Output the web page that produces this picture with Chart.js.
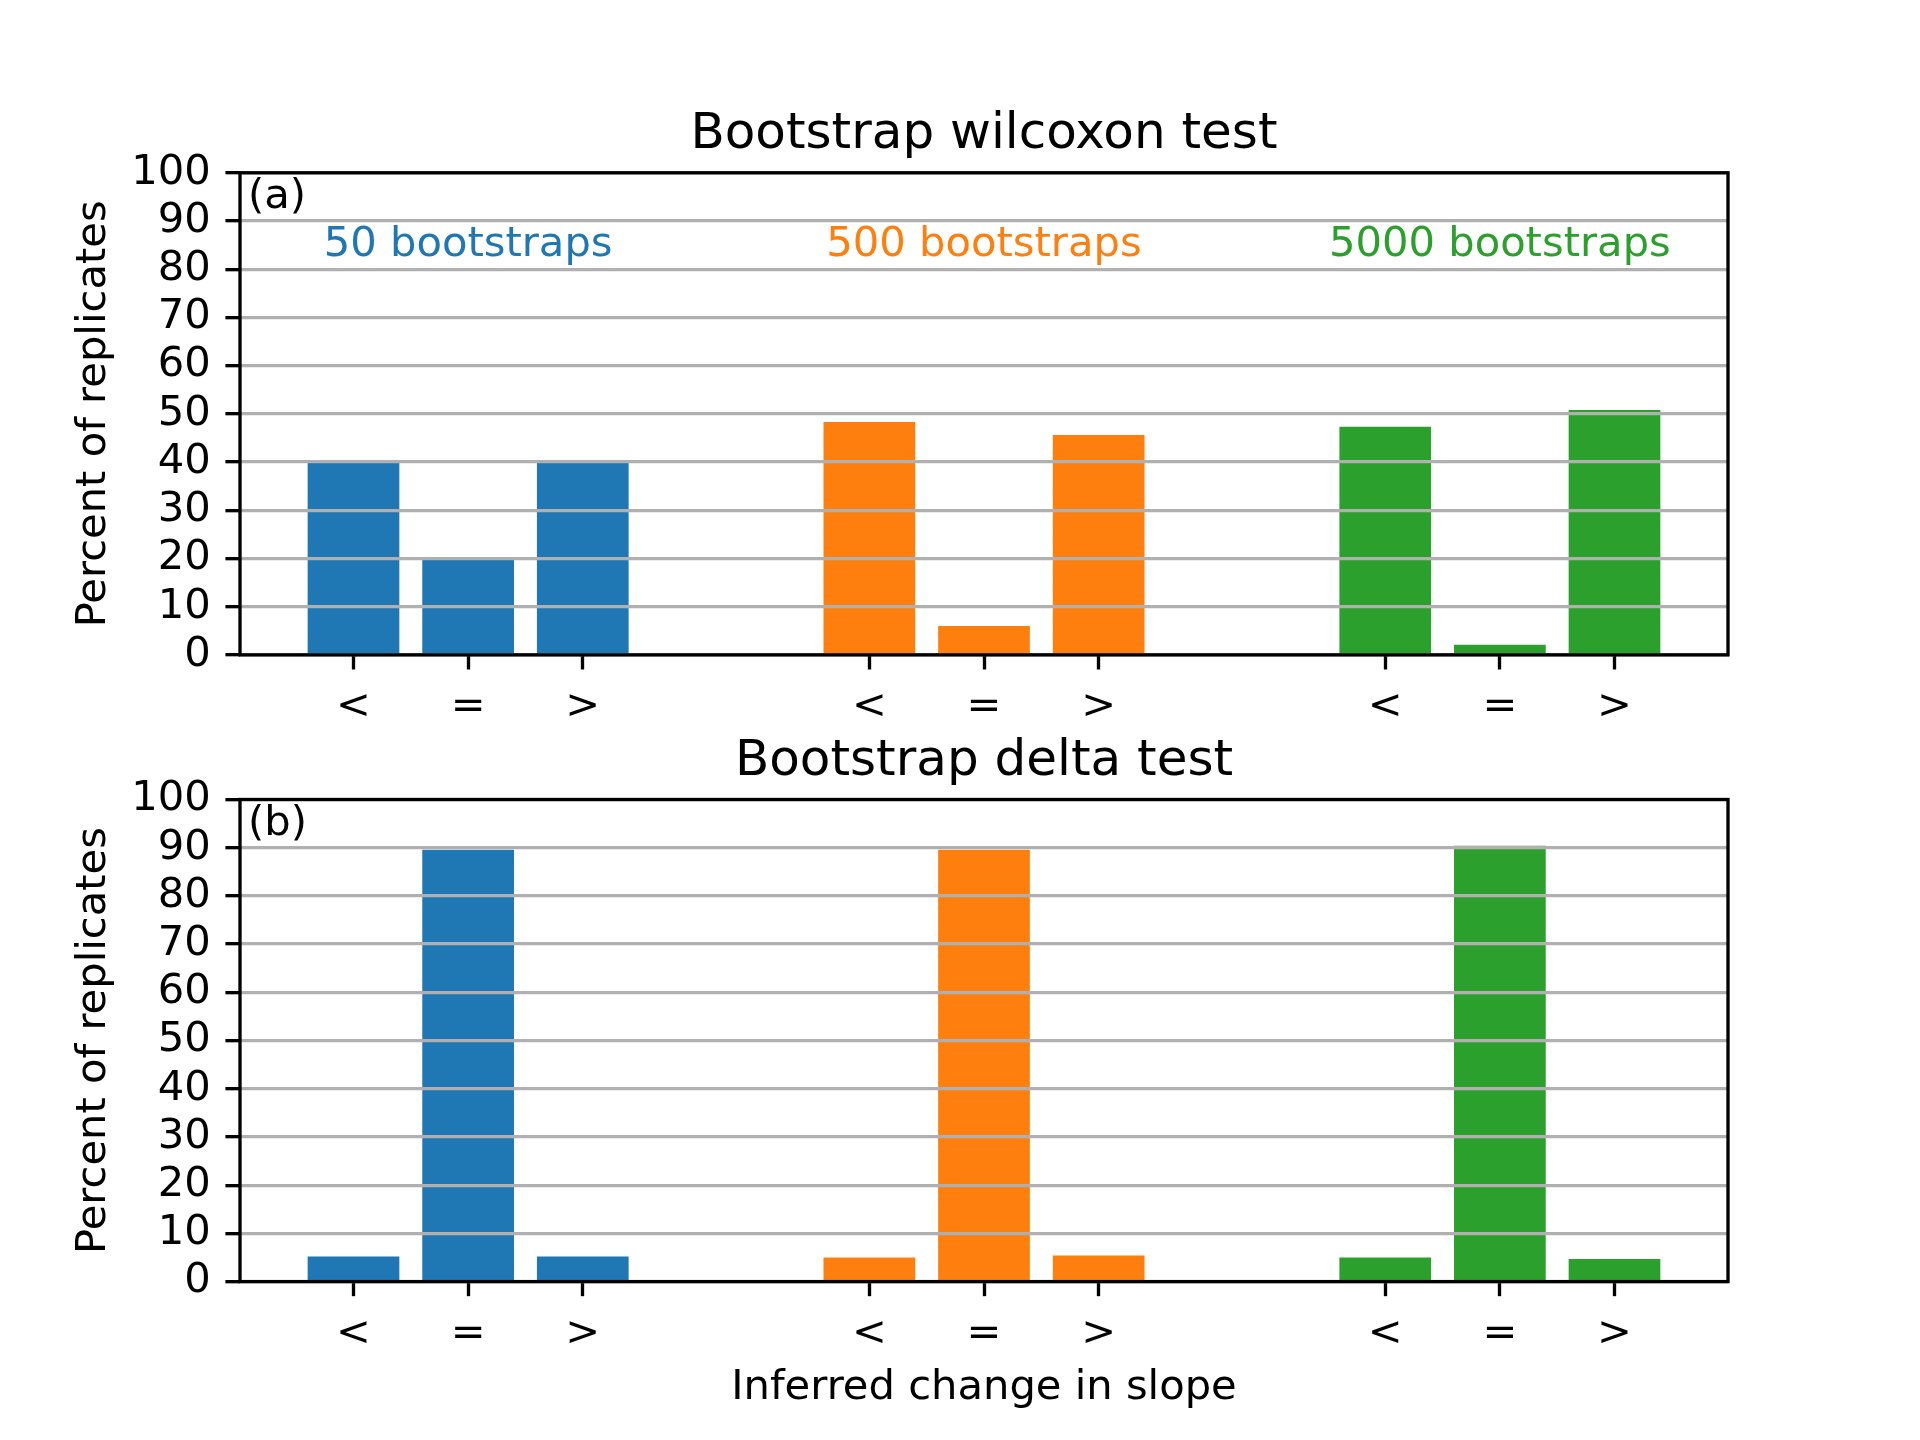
<!DOCTYPE html>
<html>
<head>
<meta charset="utf-8">
<script src="https://cdn.jsdelivr.net/npm/chart.js@4/dist/chart.umd.min.js"></script>
<style>
html, body { margin: 0; padding: 0; background: #ffffff; }
#wrap { position: relative; width: 1920px; height: 1440px; overflow: hidden; background: #ffffff; }
canvas { position: absolute; left: 0; }
</style>
</head>
<body>
<div id="wrap">
  <canvas id="top" width="1920" height="760" style="top:0px;width:1920px;height:760px"></canvas>
  <canvas id="bottom" width="1920" height="760" style="top:680px;width:1920px;height:760px"></canvas>
</div>
<script>
// ---------------- data ----------------
const categories = ['<', '=', '>'];
const groupNames = ['50 bootstraps', '500 bootstraps', '5000 bootstraps'];
const groupColors = ['#1f77b4', '#ff7f0e', '#2ca02c'];
const groupPositions = [[0, 1, 2], [4.5, 5.5, 6.5], [9, 10, 11]];
const groupCenters = [1, 5.5, 10];
const tickPositions = [0, 1, 2, 4.5, 5.5, 6.5, 9, 10, 11];
const tickLabels = ['<', '=', '>', '<', '=', '>', '<', '=', '>'];

const wilcoxon50   = [40.0, 20.0, 40.0];
const wilcoxon500  = [48.3, 6.0, 45.6];
const wilcoxon5000 = [47.3, 2.1, 50.8];

const delta50   = [5.2, 89.6, 5.2];
const delta500  = [5.0, 89.6, 5.4];
const delta5000 = [5.0, 90.4, 4.7];

const yMin = 0, yMax = 100, yStep = 10;
const titles = ['Bootstrap wilcoxon test', 'Bootstrap delta test'];
const panelLetters = ['(a)', '(b)'];
const yAxisLabel = 'Percent of replicates';
const xAxisLabel = 'Inferred change in slope';

// ---------------- style ----------------
const FONT = "'DejaVu Sans', 'Liberation Sans', sans-serif";
const PT = 300 / 72;
const FS = 10 * PT;     // tick / label font
const TFS = 12 * PT;    // title font
const LW = 0.8 * PT;    // spine, tick, grid width
const TL = 3.5 * PT;    // tick length

const panelPlugin = {
  id: 'panelText',
  afterDraw(chart, args, o) {
    const ctx = chart.ctx;
    const a = chart.chartArea;
    const xs = chart.scales.x, ys = chart.scales.y;
    ctx.save();
    // spines (box)
    ctx.strokeStyle = '#000000';
    ctx.lineWidth = LW;
    ctx.lineJoin = 'miter';
    ctx.strokeRect(a.left, a.top, a.right - a.left, a.bottom - a.top);
    ctx.textBaseline = 'alphabetic';
    ctx.fillStyle = '#000000';
    // title
    ctx.font = TFS + 'px ' + FONT;
    ctx.textAlign = 'center';
    ctx.fillText(o.title, (a.left + a.right) / 2, a.top - 6 * PT);
    // panel letter
    ctx.font = FS + 'px ' + FONT;
    ctx.textAlign = 'left';
    ctx.fillText(o.letter, a.left + 8, a.top + 35.3);
    // group names
    if (o.showGroups) {
      groupNames.forEach((n, i) => {
        ctx.fillStyle = groupColors[i];
        ctx.textAlign = 'center';
        ctx.fillText(n, xs.getPixelForValue(groupCenters[i]), ys.getPixelForValue(85) + 0.262 * FS);
      });
    }
    // y label
    ctx.fillStyle = '#000000';
    ctx.save();
    ctx.translate(a.left - 135, (a.top + a.bottom) / 2);
    ctx.rotate(-Math.PI / 2);
    ctx.textAlign = 'center';
    ctx.fillText(yAxisLabel, 0, 0);
    ctx.restore();
    // x label
    if (o.showXLabel) {
      ctx.textAlign = 'center';
      ctx.fillText(xAxisLabel, (a.left + a.right) / 2, a.bottom + 117);
    }
    ctx.restore();
  }
};

function buildDatasets(seriesValues) {
  return seriesValues.map((vals, g) => ({
    label: groupNames[g],
    data: vals.map((v, i) => ({ x: groupPositions[g][i], y: v })),
    backgroundColor: groupColors[g],
    borderWidth: 0,
    grouped: false,
    categoryPercentage: 1.0,
    barPercentage: 0.8
  }));
}

function makePanel(id, idx, seriesValues, padTop, xAxisHeight, showGroups, showXLabel) {
  return new Chart(document.getElementById(id), {
    type: 'bar',
    data: { datasets: buildDatasets(seriesValues) },
    plugins: [panelPlugin],
    options: {
      responsive: false,
      animation: false,
      devicePixelRatio: 1,
      layout: { padding: { top: padTop, left: 0, right: 192, bottom: 0 } },
      plugins: {
        legend: { display: false },
        tooltip: { enabled: false },
        title: { display: false },
        panelText: { title: titles[idx], letter: panelLetters[idx], showGroups: showGroups, showXLabel: showXLabel }
      },
      scales: {
        x: {
          type: 'linear',
          offset: false,
          min: -0.99,
          max: 11.99,
          bounds: 'data',
          afterBuildTicks: (s) => { s.ticks = tickPositions.map(v => ({ value: v })); },
          afterFit: (s) => { s.height = xAxisHeight; },
          border: { display: false },
          grid: { offset: false, drawOnChartArea: false, drawTicks: true, tickLength: TL, tickWidth: LW, tickColor: '#000000', color: '#000000' },
          ticks: {
            autoSkip: false, maxRotation: 0, minRotation: 0, padding: 13, color: '#000000',
            font: { family: FONT, size: FS },
            callback: (v, i) => tickLabels[i]
          }
        },
        y: {
          min: yMin,
          max: yMax,
          afterFit: (s) => { s.width = 240; },
          border: { display: false },
          grid: { color: '#b0b0b0', lineWidth: LW, tickColor: '#000000', tickWidth: LW, tickLength: TL, z: 1 },
          ticks: { autoSkip: false, stepSize: yStep, padding: TL, color: '#000000', font: { family: FONT, size: FS } }
        }
      }
    }
  });
}

makePanel('top', 0, [wilcoxon50, wilcoxon500, wilcoxon5000], 172.8, 760 - 654.9, true, false);
makePanel('bottom', 1, [delta50, delta500, delta5000], 119.5, 760 - 601.6, false, true);
</script>
</body>
</html>
